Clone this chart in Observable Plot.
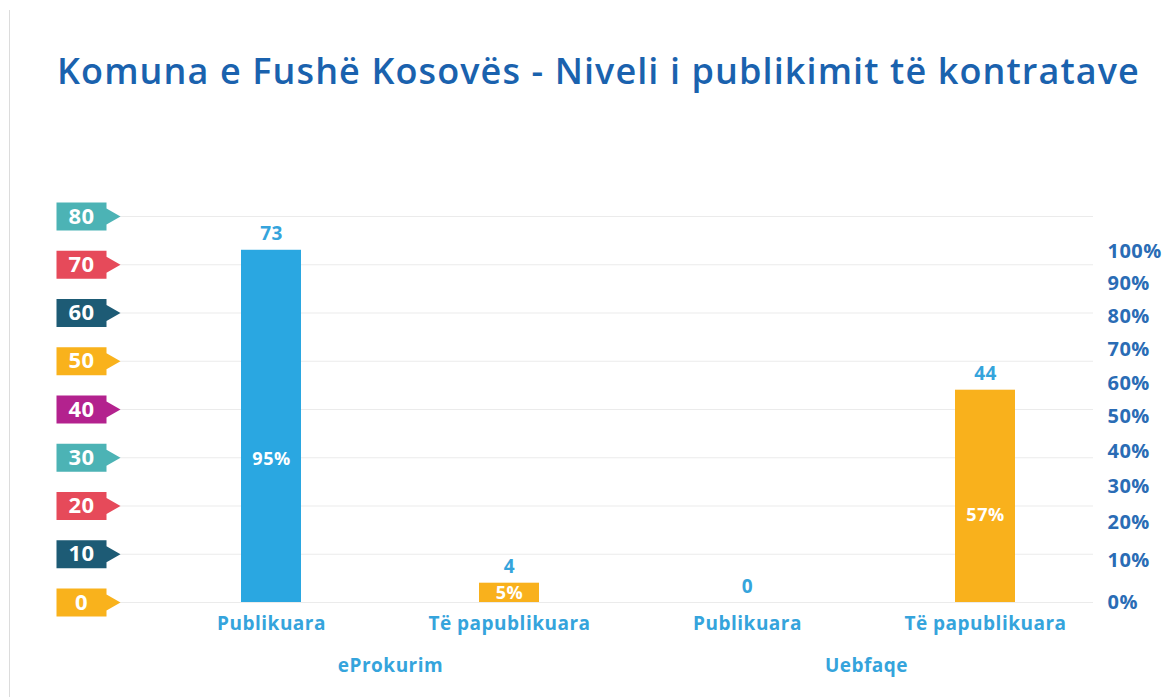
<!DOCTYPE html>
<html>
<head>
<meta charset="utf-8">
<script src="https://cdn.jsdelivr.net/npm/d3@7"></script>
<script src="https://cdn.jsdelivr.net/npm/@observablehq/plot@0.6"></script>
<style>
  html, body { margin: 0; padding: 0; background: #fff; }
  #wrap { position: relative; width: 1174px; height: 697px; overflow: hidden; font-family: "Open Sans", sans-serif; }
  #edge { position: absolute; left: 9px; top: 10px; width: 0; height: 690px; border-left: 1px solid #dcdcdc; }
  #title { height: 130px; box-sizing: border-box; padding: 51px 0 0 57px; font-size: 36px; letter-spacing: 1.1px; font-weight: 600; color: #1a62ae; white-space: nowrap; line-height: 40px; }
  #chart svg { display: block; }
  #chart svg text { letter-spacing: 0.5px; }
</style>
</head>
<body>
<div id="wrap">
  <div id="edge"></div>
  <div id="title">Komuna e Fushë Kosovës - Niveli i publikimit të kontratave</div>
  <div id="chart"></div>
</div>
<script>
// ---- data ----
const groups   = ["eProkurim", "eProkurim", "Uebfaqe", "Uebfaqe"];
const statuses = ["Publikuara", "Të papublikuara", "Publikuara", "Të papublikuara"];
const counts   = [73, 4, 0, 44];
const shares   = [95, 5, null, 57];
const leftTicks  = [0, 10, 20, 30, 40, 50, 60, 70, 80];
const rightTicks = [0, 10, 20, 30, 40, 50, 60, 70, 80, 90, 100];
const groupNames = ["eProkurim", "Uebfaqe"];

// ---- styles ----
const tagColors = ["#f9b21c", "#1d5b75", "#e64a5a", "#4cb3b5", "#b3228e", "#f9b21c", "#1d5b75", "#e64a5a", "#4cb3b5"];
const statusColors = {"Publikuara": "#2aa7e1", "Të papublikuara": "#f9b11c"};
const labelBlue = "#35a4dc";
const axisBlue = "#2a6cb5";

const rows = counts.map((v, i) => ({
  key: groups[i] + "|" + statuses[i],
  group: groups[i], status: statuses[i], value: v, share: shares[i]
}));
const keys = rows.map(d => d.key);
const tags = leftTicks.map((v, i) => ({value: v, color: tagColors[i]}));
const groupRows = groupNames.map(g => ({group: g, key: rows.find(d => d.group === g).key}));

// right-hand percentage axis (non-uniform spacing as in the source)
const pctScale = d3.scalePow().exponent(0.92).domain([0, 100]).range([0, 72.75]);

// pentagon tag symbol (origin at arrow tip)
const tagSymbol = {
  draw(ctx) {
    ctx.moveTo(-64, -14);
    ctx.lineTo(-14, -14);
    ctx.lineTo(-14, -8);
    ctx.lineTo(0, 0);
    ctx.lineTo(-14, 8);
    ctx.lineTo(-14, 14);
    ctx.lineTo(-64, 14);
    ctx.closePath();
  }
};

const chart = Plot.plot({
  width: 1174,
  height: 567,
  marginTop: 86,
  marginBottom: 95,
  marginLeft: 120,
  marginRight: 81,
  style: {fontFamily: "'Open Sans', sans-serif", background: "transparent"},
  x: {domain: keys, range: [152, 1104], paddingInner: 0.75, paddingOuter: 0.375, axis: null},
  y: {domain: [0, 80], axis: null},
  color: {type: "identity"},
  marks: [
    Plot.ruleY(leftTicks, {stroke: "#ebebeb", strokeWidth: 1}),
    Plot.barY(rows, {x: "key", y: "value", fill: d => statusColors[d.status]}),
    // value labels above bars
    Plot.text(rows, {x: "key", y: "value", text: d => String(d.value), dy: -10, lineAnchor: "bottom",
      fill: labelBlue, fontSize: 19, fontWeight: "bold"}),
    // percentage labels inside bars
    Plot.text(rows.filter(d => d.share != null), {x: "key", y: d => d.value * 0.4 + 0.4, text: d => d.share + "%",
      fill: "white", fontSize: 18, fontWeight: "bold", lineAnchor: "middle"}),
    // category labels
    Plot.axisX({tickSize: 0, tickPadding: 14, fontSize: 19, fontWeight: "bold", fill: labelBlue,
      tickFormat: k => k.split("|")[1], label: null}),
    // group labels
    Plot.text(groupRows, {x: "key", dx: 119, frameAnchor: "bottom", dy: 63, lineAnchor: "middle",
      text: "group", fill: labelBlue, fontSize: 19, fontWeight: "bold"}),
    // left tag ticks
    Plot.dot(tags, {y: "value", frameAnchor: "left", symbol: tagSymbol, fill: "color", stroke: null, r: 10}),
    Plot.text(tags, {y: "value", frameAnchor: "left", dx: -39, text: d => String(d.value),
      fill: "white", fontSize: 22, fontWeight: "bold", lineAnchor: "middle", textAnchor: "middle"}),
    // right percentage ticks
    Plot.text(rightTicks, {y: d => pctScale(d), frameAnchor: "right", dx: 14, text: d => d + "%",
      textAnchor: "start", lineAnchor: "middle", fill: axisBlue, fontSize: 20, fontWeight: "bold"})
  ]
});
document.getElementById("chart").appendChild(chart);
</script>
</body>
</html>
